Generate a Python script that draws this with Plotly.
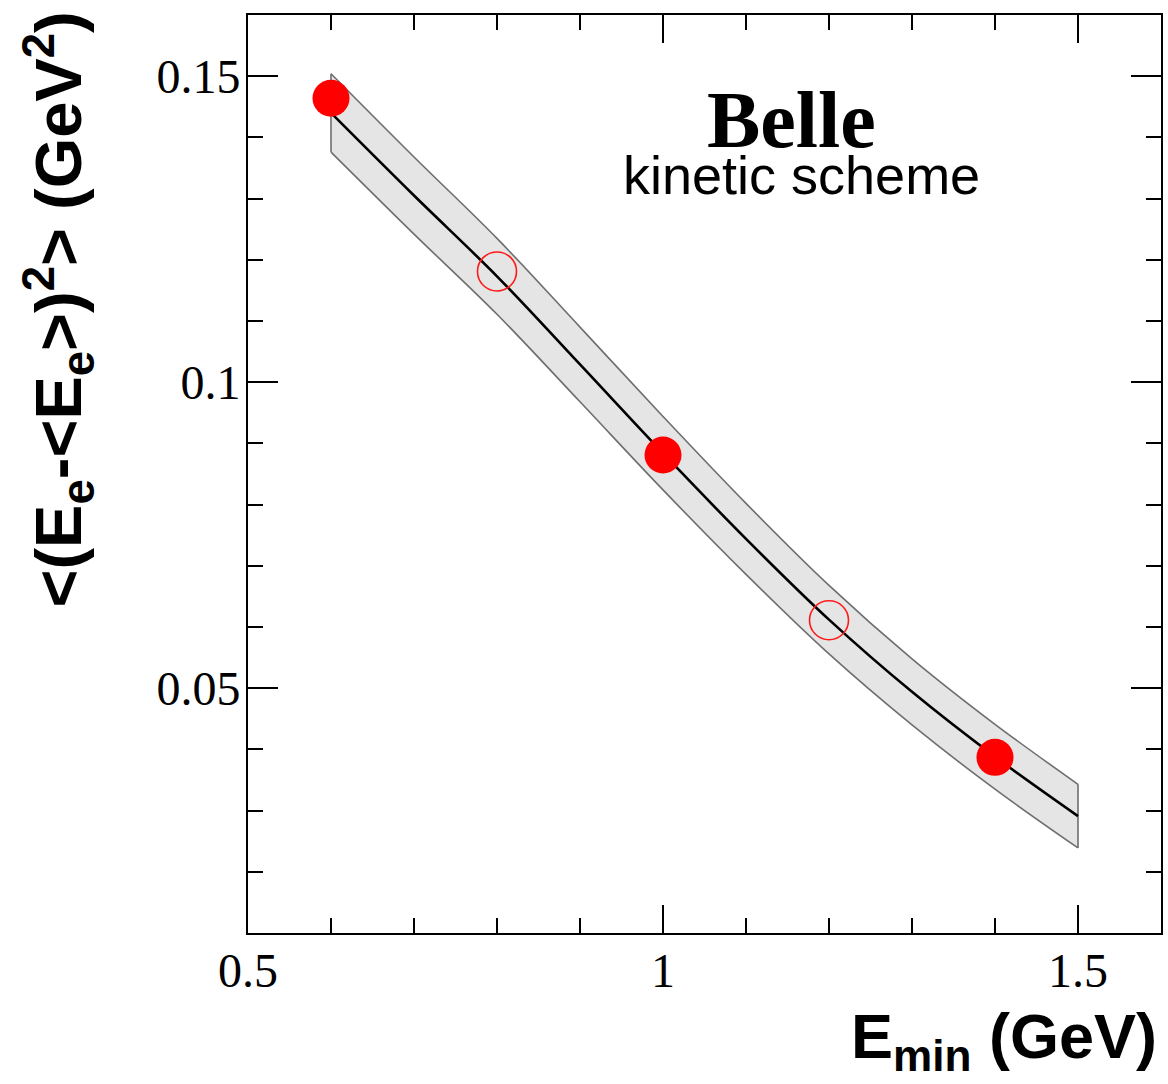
import plotly.graph_objects as go

# Theory curve (kinetic scheme) and its uncertainty band
curve_x = [0.6, 0.7, 0.8, 0.9, 1.0, 1.1, 1.2, 1.3, 1.4, 1.5]
curve_c = [0.1440, 0.1305, 0.1173, 0.1029, 0.0884, 0.0744, 0.0612, 0.0494, 0.0388, 0.0291]
band_hi = [0.1504, 0.1368, 0.1235, 0.1090, 0.0944, 0.0802, 0.0668, 0.0548, 0.0441, 0.0343]
band_lo = [0.1376, 0.1242, 0.1111, 0.0968, 0.0824, 0.0686, 0.0556, 0.0440, 0.0335, 0.0239]

# Measurements
filled_x = [0.6, 1.0, 1.4]
filled_y = [0.1464, 0.0881, 0.0387]
open_x = [0.8, 1.2]
open_y = [0.1181, 0.0611]

edge = dict(color="#6e6e6e", width=1.6)

fig = go.Figure()

fig.add_trace(go.Scatter(
    x=curve_x, y=band_lo, mode="lines", line=dict(**edge, shape="spline"),
    hoverinfo="skip", showlegend=False))
fig.add_trace(go.Scatter(
    x=curve_x, y=band_hi, mode="lines", line=dict(**edge, shape="spline"),
    fill="tonexty", fillcolor="#e5e5e5", hoverinfo="skip", showlegend=False))
# band end caps
for i in (0, -1):
    fig.add_trace(go.Scatter(
        x=[curve_x[i], curve_x[i]], y=[band_lo[i], band_hi[i]], mode="lines",
        line=edge, hoverinfo="skip", showlegend=False))

fig.add_trace(go.Scatter(
    x=curve_x, y=curve_c, mode="lines", line=dict(color="black", width=2.6, shape="spline"),
    showlegend=False))

fig.add_trace(go.Scatter(
    x=open_x, y=open_y, mode="markers",
    marker=dict(symbol="circle-open", size=39, color="#ff1a1a", line=dict(width=1.6, color="#ff1a1a")),
    showlegend=False))

fig.add_trace(go.Scatter(
    x=filled_x, y=filled_y, mode="markers",
    marker=dict(symbol="circle", size=37, color="#ff0000", line=dict(width=0)),
    showlegend=False))

tickfont = dict(family="Liberation Serif, Times New Roman, serif", size=48, color="black")

fig.update_xaxes(
    range=[0.5, 1.6], tickmode="linear", tick0=0.5, dtick=0.5,
    ticks="inside", ticklen=28, tickwidth=2, tickcolor="black",
    showline=True, linecolor="black", linewidth=2, mirror="ticks",
    showgrid=False, zeroline=False, tickfont=tickfont, ticklabelstandoff=-6,
    minor=dict(dtick=0.1, tick0=0.5, ticks="inside", ticklen=15, tickwidth=2, tickcolor="black", showgrid=False),
)
fig.update_yaxes(
    range=[0.01, 0.16], tickmode="linear", tick0=0, dtick=0.05,
    ticks="inside", ticklen=30, tickwidth=2, tickcolor="black",
    showline=True, linecolor="black", linewidth=2, mirror="ticks",
    showgrid=False, zeroline=False, tickfont=tickfont, ticklabelstandoff=-4,
    minor=dict(dtick=0.01, tick0=0, ticks="inside", ticklen=15, tickwidth=2, tickcolor="black", showgrid=False),
)

sans_bold = "Liberation Sans, Arial, sans-serif"

fig.update_layout(
    width=1168, height=1084,
    margin=dict(l=248, r=5, t=15, b=151),
    plot_bgcolor="white", paper_bgcolor="white",
    annotations=[
        dict(text="<b>Belle</b>", x=1.155, y=0.1429, xref="x", yref="y",
             showarrow=False, xanchor="center", yanchor="middle",
             font=dict(family="Liberation Serif, Times New Roman, serif", size=80, color="black")),
        dict(text="kinetic scheme", x=1.167, y=0.1338, xref="x", yref="y",
             showarrow=False, xanchor="center", yanchor="middle",
             font=dict(family="Liberation Sans, Arial, sans-serif", size=54, color="black")),
        dict(text="<b>&lt;(E<sub>e</sub>-&lt;E<sub>e</sub>&gt;)<sup>2</sup>&gt; (GeV<sup>2</sup>)</b>",
             x=-0.207, y=1.006, xref="paper", yref="paper", textangle=-90,
             showarrow=False, xanchor="center", yanchor="top",
             font=dict(family=sans_bold, size=65, color="black")),
        dict(text="<b>E<sub>min</sub> (GeV)</b>",
             x=0.998, y=-0.072, xref="paper", yref="paper",
             showarrow=False, xanchor="right", yanchor="top",
             font=dict(family=sans_bold, size=63, color="black")),
    ],
)

fig.write_html("out.html")
